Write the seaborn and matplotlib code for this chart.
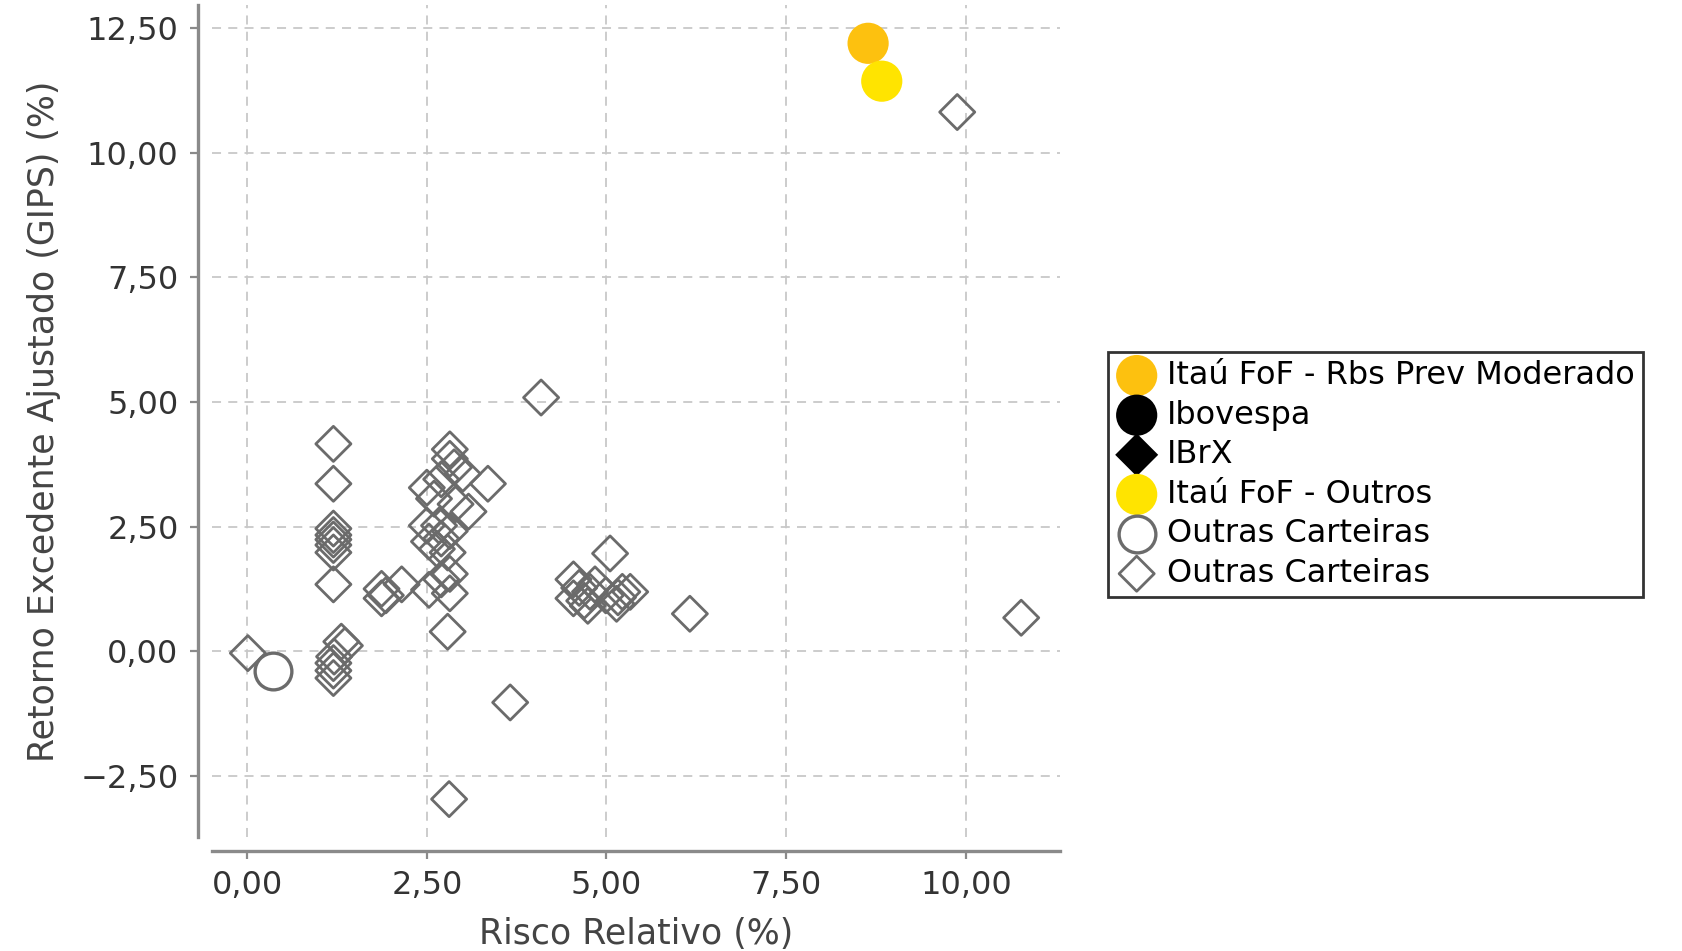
import numpy as np
import pandas as pd
import matplotlib
matplotlib.use("Agg")
import matplotlib.pyplot as plt
import seaborn as sns

# ---- data ----
rbs_x = [8.64]
rbs_y = [12.20]
outros_x = [8.83]
outros_y = [11.44]
ibov_x = []
ibov_y = []
ibrx_x = []
ibrx_y = []
circ_x = [0.36]
circ_y = [-0.39]
diam_x = [9.88, 10.77, 0.01, 4.09, 6.16, 3.66, 2.81, 2.79, 5.05,
          1.20, 1.20, 1.20, 1.20, 1.20, 1.20, 1.20, 1.20,
          1.31, 1.36, 1.21, 1.20, 1.20, 1.20,
          1.87, 1.87, 1.93, 2.15,
          2.82, 2.82, 2.88, 3.00, 3.35, 2.50, 2.60, 2.70, 3.08, 2.90,
          2.50, 2.67, 2.82, 2.70, 2.53, 2.64, 2.79, 2.82, 2.70, 2.53, 2.82,
          4.54, 4.62, 4.54, 4.69, 4.77, 4.74, 4.84, 4.99, 5.16, 5.22, 5.33, 5.14]
diam_y = [10.82, 0.67, -0.04, 5.09, 0.75, -1.03, -2.97, 0.39, 1.96,
          4.16, 3.36, 2.46, 2.33, 2.24, 2.13, 1.98, 1.34,
          0.19, 0.11, -0.11, -0.24, -0.39, -0.54,
          1.25, 1.06, 1.12, 1.34,
          4.05, 3.86, 3.69, 3.56, 3.36, 3.28, 3.06, 3.45, 2.80, 2.95,
          2.52, 2.52, 2.41, 2.26, 2.20, 2.05, 1.98, 1.55, 1.44, 1.23, 1.16,
          1.44, 1.27, 1.06, 1.01, 1.19, 0.91, 1.34, 1.12, 1.08, 1.19, 1.19, 0.95]

x_ticks = [0.0, 2.5, 5.0, 7.5, 10.0]
x_labels = ["0,00", "2,50", "5,00", "7,50", "10,00"]
y_ticks = [-2.5, 0.0, 2.5, 5.0, 7.5, 10.0, 12.5]
y_labels = ["\u22122,50", "0,00", "2,50", "5,00", "7,50", "10,00", "12,50"]

labels = ["Itaú FoF - Rbs Prev Moderado", "Ibovespa", "IBrX",
          "Itaú FoF - Outros", "Outras Carteiras", "Outras Carteiras"]

# ---- style ----
sns.set_theme(style="white")
plt.rcParams["font.family"] = ["DejaVu Sans"]

GRAY = "#6b6b6b"
ORANGE = "#FDC10F"
YELLOW = "#FFE400"
DS = 320
CS = 880

fig = plt.figure(figsize=(16.82, 9.51), dpi=100)
ax = fig.add_axes([0.1260, 0.1199, 0.5042, 0.8749])

df_d = pd.DataFrame({"x": diam_x, "y": diam_y})
sns.scatterplot(data=df_d, x="x", y="y", marker="D", s=DS, facecolor="none",
                edgecolor=GRAY, linewidth=2.0, ax=ax, zorder=3, legend=False)
h_diam = ax.scatter([], [], marker="D", s=DS, facecolor="none", edgecolor=GRAY, linewidth=2.0)

df_c = pd.DataFrame({"x": circ_x, "y": circ_y})
sns.scatterplot(data=df_c, x="x", y="y", marker="o", s=700, facecolor="white",
                edgecolor=GRAY, linewidth=2.4, ax=ax, zorder=4, legend=False)
h_circ = ax.scatter([], [], marker="o", s=700, facecolor="white", edgecolor=GRAY, linewidth=2.4)

df_r = pd.DataFrame({"x": rbs_x, "y": rbs_y})
sns.scatterplot(data=df_r, x="x", y="y", marker="o", s=CS, color=ORANGE,
                edgecolor="none", ax=ax, zorder=5, legend=False)
h_rbs = ax.scatter([], [], marker="o", s=CS, color=ORANGE, edgecolor="none")

df_o = pd.DataFrame({"x": outros_x, "y": outros_y})
sns.scatterplot(data=df_o, x="x", y="y", marker="o", s=CS, color=YELLOW,
                edgecolor="none", ax=ax, zorder=5, legend=False)
h_out = ax.scatter([], [], marker="o", s=CS, color=YELLOW, edgecolor="none")

h_ibov = ax.scatter(ibov_x, ibov_y, marker="o", s=CS, color="black", edgecolor="none")
h_ibrx = ax.scatter(ibrx_x, ibrx_y, marker="D", s=480, color="black", edgecolor="none")

ax.set_xlim(-0.49, 11.31)
ax.set_ylim(-3.73, 12.97)
ax.set_xticks(x_ticks)
ax.set_xticklabels(x_labels)
ax.set_yticks(y_ticks)
ax.set_yticklabels(y_labels)

ax.grid(True, color="#c8c8c8", linestyle=(0, (5, 4)), linewidth=1.3)
ax.set_axisbelow(True)

sns.despine(ax=ax, offset=10)
for sp in ["left", "bottom"]:
    ax.spines[sp].set_color("#8a8a8a")
    ax.spines[sp].set_linewidth(2.4)

ax.tick_params(axis="both", which="major", length=6, width=1.6, color="#8a8a8a",
               labelsize=23, labelcolor="#333333", pad=8, bottom=True, left=True)

ax.set_xlabel("Risco Relativo (%)", fontsize=25, color="#444444", labelpad=11)
ax.set_ylabel("Retorno Excedente Ajustado (GIPS) (%)", fontsize=25, color="#444444", labelpad=14)

handles = [h_rbs, h_ibov, h_ibrx, h_out, h_circ, h_diam]
leg = fig.legend(handles, labels, loc="upper left", bbox_to_anchor=(0.6587, 0.6299),
                 fontsize=23, frameon=True, fancybox=False, borderaxespad=0,
                 labelspacing=0.27, handletextpad=0.3, handlelength=1.3,
                 borderpad=0.25, edgecolor="black", scatterpoints=1)
leg.get_frame().set_linewidth(2.0)
for t in leg.get_texts():
    t.set_color("black")

fig.savefig("out.png", dpi=100)
